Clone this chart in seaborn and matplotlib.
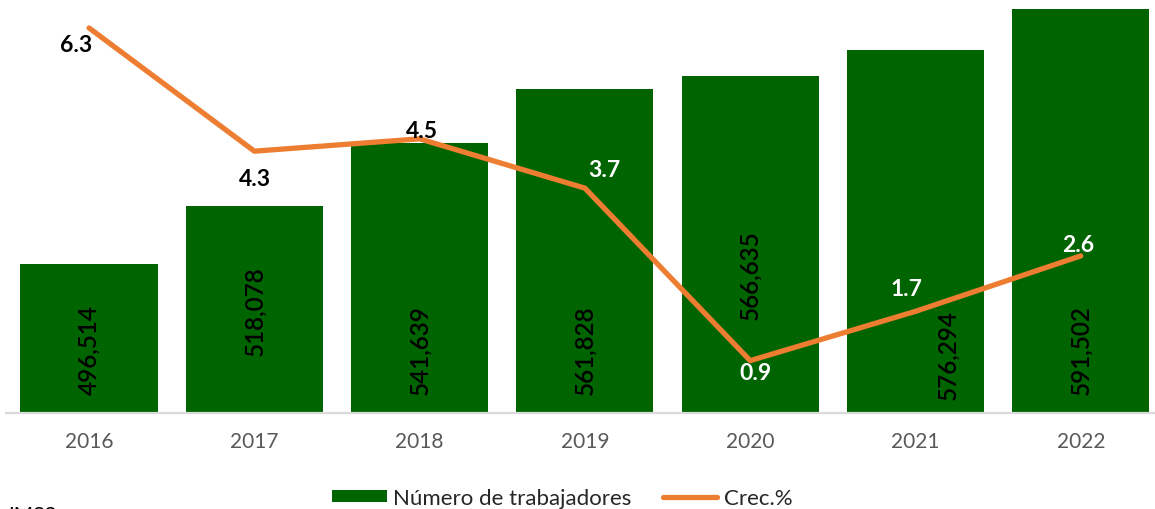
import numpy as np
import pandas as pd
import matplotlib
matplotlib.use("Agg")
import matplotlib.pyplot as plt
import seaborn as sns
from matplotlib.patches import Patch
from matplotlib.lines import Line2D

years = ["2016", "2017", "2018", "2019", "2020", "2021", "2022"]
workers = [496514, 518078, 541639, 561828, 566635, 576294, 591502]
growth = [6.3, 4.3, 4.5, 3.7, 0.9, 1.7, 2.6]
growth_label_colors = ["black", "black", "black", "white", "white", "white", "white"]

# layout: label offsets (pixels) — style only
bar_label_dy = [0, 39, 0, 0, 75, -5, 0]       # upward shift from default inside-base spot
bar_label_dx = [0, 0, 0, 0, 0, 32, 0]
growth_label_off = [(-13, -17), (1, -27), (2, 8), (19, 19), (5, -12), (-9, 23), (-3, 11)]

sns.set_theme(style="white")
plt.rcParams["font.family"] = ["Lato", "DejaVu Sans"]

GREEN = "#006400"
ORANGE = "#ED7D31"

fig = plt.figure(figsize=(11.55, 5.10), dpi=100)
ax = fig.add_axes([6.4 / 1155, 96 / 510, 1157 / 1155, 414 / 510])

df = pd.DataFrame({"year": years, "workers": workers})
sns.barplot(data=df, x="year", y="workers", color=GREEN, saturation=1,
            width=0.83, ax=ax, edgecolor="none")
ax.set_xlim(-0.5, 6.5)
ax.set_ylim(441000, 595400)
ax.set_xlabel("")
ax.set_ylabel("")
ax.set_yticks([])
for s in ["top", "right", "left"]:
    ax.spines[s].set_visible(False)
ax.spines["bottom"].set_color("#D9D9D9")
ax.spines["bottom"].set_linewidth(1.6)
ax.tick_params(axis="x", length=0, pad=13, labelsize=15, labelcolor="#595959")

px = 0.72  # points per pixel at dpi 100
for i, v in enumerate(workers):
    ax.annotate(f"{v:,}", xy=(i, 441000), xytext=(bar_label_dx[i] * px, (19 + bar_label_dy[i]) * px),
                textcoords="offset points", rotation=90, ha="center", va="bottom",
                fontsize=17.5, fontweight="semibold", color="black")

ax2 = ax.twinx()
sns.lineplot(x=np.arange(len(growth)), y=growth, color=ORANGE, linewidth=3.8,
             ax=ax2, solid_capstyle="round")
ax2.set_ylim(0.05, 6.77)
ax2.set_xlim(-0.5, 6.5)
ax2.set_yticks([])
for s in ["top", "right", "left", "bottom"]:
    ax2.spines[s].set_visible(False)

for i, g in enumerate(growth):
    dx, dy = growth_label_off[i]
    ax2.annotate(f"{g:.1f}", xy=(i, g), xytext=(dx * px, dy * px), textcoords="offset points",
                 ha="center", va="center", fontsize=16.5, fontweight="bold",
                 color=growth_label_colors[i])

handles = [Patch(facecolor=GREEN, edgecolor="none", label="Número de trabajadores"),
           Line2D([0], [0], color=ORANGE, linewidth=3.8, solid_capstyle="round", label="Crec.%")]
fig.legend(handles=handles, loc="center", bbox_to_anchor=(0.487, 0.0216), ncol=2,
           frameon=False, fontsize=16, handlelength=2.45, handleheight=0.5,
           handletextpad=0.3, columnspacing=1.4, labelcolor="#262626")

fig.text(8 / 1155, 4 / 510, "IMSS", ha="left", va="top", fontsize=15, color="black")

fig.savefig("out.png", dpi=100)
